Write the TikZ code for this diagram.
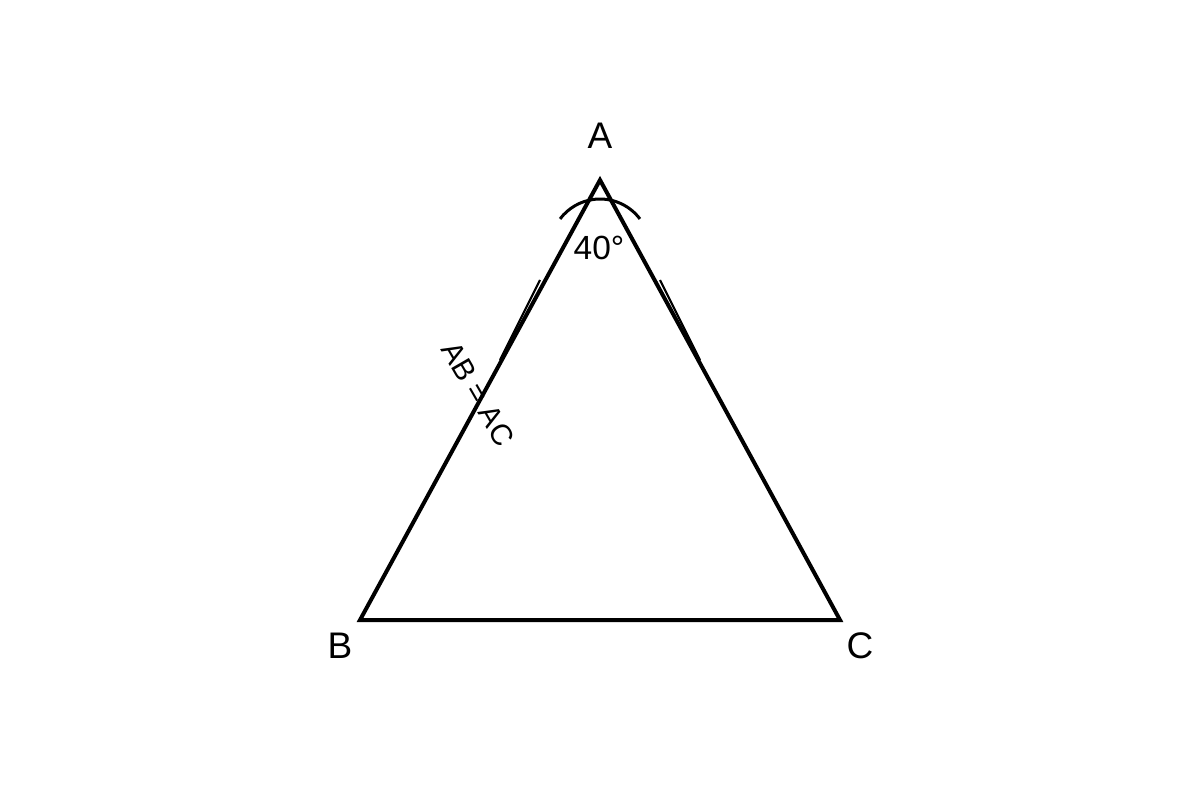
\documentclass[tikz,border=0pt]{standalone}
\usepackage{fontspec}
\setmainfont{Liberation Sans}
\begin{document}
\begin{tikzpicture}[line join=miter,x=0.5pt,y=0.5pt]
		\tikzset{every node/.style={inner sep=0pt},
			vlabel/.style={font=\fontsize{18.5}{22}\selectfont},
			side/.style={line width=2pt},
			tickline/.style={line width=1.1pt}}
		\useasboundingbox (0,0) rectangle (1200,800);
		\coordinate (A) at (600,620);
		\coordinate (B) at (360,180);
		\coordinate (C) at (840,180);
		\draw[side] (A)--(B)--(C)--cycle;
		\node[vlabel] (lA) at (600,664) {A};
		\node[vlabel] (lB) at (340,154) {B};
		\node[vlabel] (lC) at (860,154) {C};
		% angle at A
		\coordinate (O) at (600,551);
		\draw[line width=1.5pt] ([shift={(37:25pt)}]O) arc[start angle=37,end angle=143,radius=25pt];
		\node[font=\fontsize{16.75}{20}\selectfont] (ang) at (599,552) {40°};
		% equal sides
		\foreach \p/\q in {540/500,660/700}
		\draw[tickline] (\p,520)--(\q,440);
		\node[font=\fontsize{14.8}{18}\selectfont,rotate=-60] (eq) at (478,406) {AB = AC};
	\end{tikzpicture}
\end{document}
